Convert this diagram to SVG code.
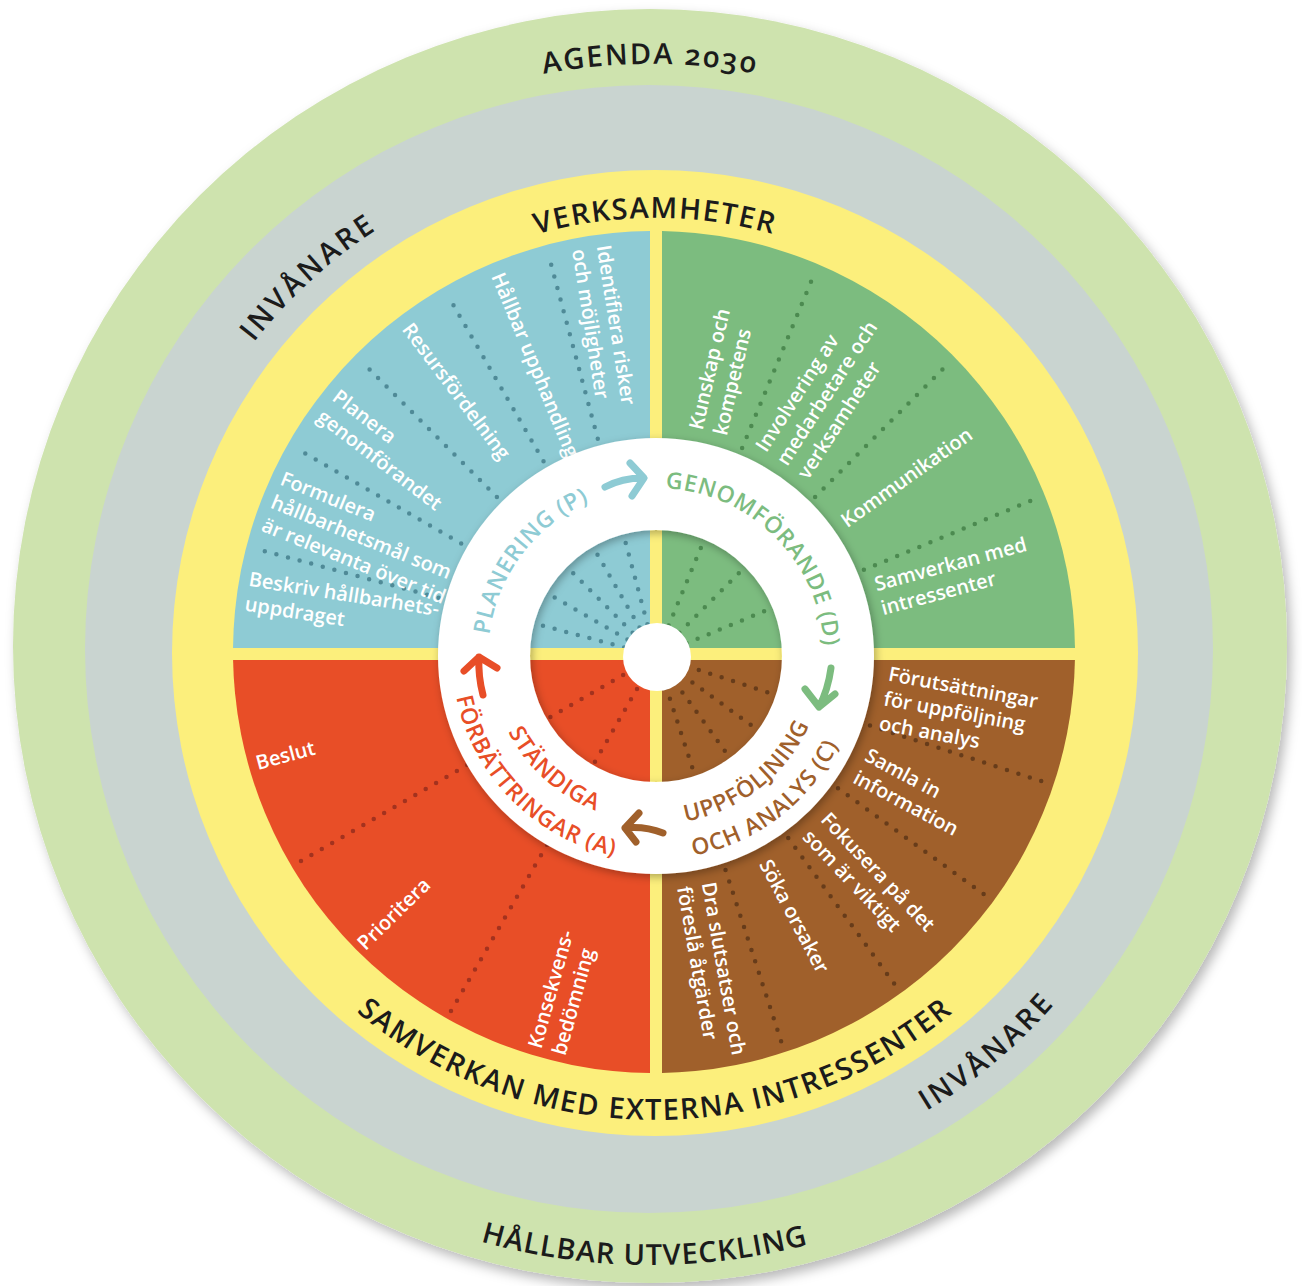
<svg xmlns="http://www.w3.org/2000/svg" width="1302" height="1286" viewBox="0 0 1302 1286">
<defs>
<style>
.dark{font-family:"Open Sans","Noto Sans","DejaVu Sans",sans-serif;font-weight:600;fill:#1b1b1b;font-size:29px;}
.lbl{font-family:"Open Sans","Noto Sans","DejaVu Sans",sans-serif;font-weight:600;font-size:20px;fill:#ffffff;}
.ring{font-family:"Open Sans","Noto Sans","DejaVu Sans",sans-serif;font-weight:600;font-size:23px;letter-spacing:0.8px;}
.dots{fill:none;stroke-width:4.5;stroke-linecap:round;stroke-dasharray:0 12;}
.arrow{fill:none;stroke-width:7;stroke-linecap:round;stroke-linejoin:round;}
</style>
<filter id="shadow" x="-10%" y="-10%" width="125%" height="125%">
<feDropShadow dx="4" dy="6" stdDeviation="6" flood-color="#000" flood-opacity="0.28"/>
</filter>
<filter id="ringShadow" x="-20%" y="-20%" width="140%" height="140%">
<feDropShadow dx="2" dy="3" stdDeviation="4" flood-color="#000" flood-opacity="0.3"/>
</filter>
<clipPath id="cBlue"><rect x="0" y="0" width="650" height="648"/></clipPath>
<clipPath id="cGreen"><rect x="662" y="0" width="640" height="648"/></clipPath>
<clipPath id="cRed"><rect x="0" y="660" width="650" height="626"/></clipPath>
<clipPath id="cBrown"><rect x="662" y="660" width="640" height="626"/></clipPath>
<path id="pAgenda" d="M103.1,446.9 A582,582 0 0 1 1196.9,446.9"/>
<path id="pVerk" d="M246.2,504.2 A435,435 0 0 1 1063.8,504.2"/>
<path id="pInv1" d="M195.8,860.3 A500,500 0 0 1 899,216"/>
<path id="pInv2" d="M379.5,1115.8 A539,539 0 0 0 1155.5,464.7"/>
<path id="pSamv" d="M216.2,812.7 A467,467 0 0 0 1093.8,812.7"/>
<path id="pHall" d="M66.5,852.6 A619,619 0 0 0 1229.8,862.8"/>
<path id="pPlan" d="M527.3,764 A168,168 0 0 1 724.3,502.5"/>
<path id="pGen" d="M567,513.5 A168,168 0 0 1 798.5,745"/>
<path id="pUpp" d="M550.3,786.6 A168,168 0 0 0 808.3,585"/>
<path id="pOch" d="M526.6,812.4 A203,203 0 0 0 840.9,572.1"/>
<path id="pStan" d="M510.8,575.5 A166,166 0 0 0 751.2,792"/>
<path id="pForb" d="M483,547.9 A204,204 0 0 0 764.1,829"/>
</defs>

<rect x="0" y="0" width="1302" height="1286" fill="#ffffff"/>

<g id="ring-agenda">
<circle cx="650" cy="646" r="637" fill="#cee3ae" filter="url(#shadow)"/>
<text class="dark" style="letter-spacing:2px;font-variant-numeric:oldstyle-nums"><textPath href="#pAgenda" startOffset="50%" text-anchor="middle">AGENDA 2030</textPath></text>
<text class="dark" style="letter-spacing:1px"><textPath href="#pHall" startOffset="50%" text-anchor="middle">HÅLLBAR UTVECKLING</textPath></text>
</g>

<g id="ring-invanare">
<circle cx="649" cy="649" r="564" fill="#c9d4d0"/>
<text class="dark" style="letter-spacing:3px"><textPath href="#pInv1" startOffset="50%" text-anchor="middle">INVÅNARE</textPath></text>
<text class="dark" style="letter-spacing:3px"><textPath href="#pInv2" startOffset="50%" text-anchor="middle">INVÅNARE</textPath></text>
</g>

<g id="ring-verksamheter">
<circle cx="655" cy="653" r="483" fill="#fcef7c"/>
<text class="dark" style="letter-spacing:1.5px"><textPath href="#pVerk" startOffset="50%" text-anchor="middle">VERKSAMHETER</textPath></text>
<text class="dark" style="letter-spacing:1.6px"><textPath href="#pSamv" startOffset="50%" text-anchor="middle">SAMVERKAN MED EXTERNA INTRESSENTER</textPath></text>
</g>

<g id="q-planering">
<g clip-path="url(#cBlue)">
<circle cx="654" cy="652" r="421" fill="#8ecbd4"/>
<path class="dots" stroke="#4f8a97" d="M264.8,551.2 L627,648.2 M305.3,453.5 L630,641 M369.6,369.6 L634.8,634.8 M453.5,305.3 L641,630 M551.2,264.8 L648.2,627"/>
</g>
<text class="lbl" transform="translate(656 656) rotate(9)"><tspan x="-414" y="-5.5">Beskriv hållbarhets-</tspan><tspan x="-414" y="19.5">uppdraget</tspan></text>
<text class="lbl" transform="translate(656 656) rotate(22)"><tspan x="-414" y="-18">Formulera</tspan><tspan x="-414" y="7">hållbarhetsmål som</tspan><tspan x="-414" y="32">är relevanta över tid</tspan></text>
<text class="lbl" transform="translate(656 656) rotate(37.5)"><tspan x="-414" y="-5.5">Planera</tspan><tspan x="-414" y="19.5">genomförandet</tspan></text>
<text class="lbl" transform="translate(656 656) rotate(53)"><tspan x="-414" y="7">Resursfördelning</tspan></text>
<text class="lbl" transform="translate(656 656) rotate(67.5)"><tspan x="-414" y="7">Hållbar upphandling</tspan></text>
<text class="lbl" transform="translate(656 656) rotate(81)"><tspan x="-414" y="-5.5">Identifiera risker</tspan><tspan x="-414" y="19.5">och möjligheter</tspan></text>
</g>

<g id="q-genomforande">
<g clip-path="url(#cGreen)">
<circle cx="654" cy="652" r="421" fill="#7cbc7f"/>
<path class="dots" stroke="#4c8a50" d="M811,281.8 L667.5,628.3 M942.4,369.6 L677.2,634.8 M1030.2,501 L683.7,644.5"/>
</g>
<text class="lbl" transform="translate(656 656) rotate(283)"><tspan x="230" y="-5.5">Kunskap och</tspan><tspan x="230" y="19.5">kompetens</tspan></text>
<text class="lbl" transform="translate(656 656) rotate(303)"><tspan x="230" y="-18">Involvering av</tspan><tspan x="230" y="7">medarbetare och</tspan><tspan x="230" y="32">verksamheter</tspan></text>
<text class="lbl" transform="translate(656 656) rotate(324.5)"><tspan x="230" y="7">Kommunikation</tspan></text>
<text class="lbl" transform="translate(656 656) rotate(345)"><tspan x="230" y="-5.5">Samverkan med</tspan><tspan x="230" y="19.5">intressenter</tspan></text>
</g>

<g id="q-forbattringar">
<g clip-path="url(#cRed)">
<circle cx="654" cy="652" r="421" fill="#e84e27"/>
<path class="dots" stroke="#a3321e" d="M301,861 L630,671 M451,1011.1 L641,682"/>
</g>
<text class="lbl" transform="translate(656 656) rotate(-15)"><tspan x="-414" y="7">Beslut</tspan></text>
<text class="lbl" transform="translate(656 656) rotate(-44.5)"><tspan x="-414" y="7">Prioritera</tspan></text>
<text class="lbl" transform="translate(656 656) rotate(-74.5)"><tspan x="-410" y="-5.5">Konsekvens-</tspan><tspan x="-410" y="19.5">bedömning</tspan></text>
</g>

<g id="q-uppfoljning">
<g clip-path="url(#cBrown)">
<circle cx="654" cy="652" r="421" fill="#a0602b"/>
<path class="dots" stroke="#673c1a" d="M1041.2,781.1 L684.5,665.3 M983.6,894.1 L680.3,673.6 M894.1,983.6 L673.6,680.3 M781.1,1041.2 L665.3,684.5"/>
</g>
<text class="lbl" transform="translate(656 656) rotate(10.5)"><tspan x="232" y="-18">Förutsättningar</tspan><tspan x="232" y="7">för uppföljning</tspan><tspan x="232" y="32">och analys</tspan></text>
<text class="lbl" transform="translate(656 656) rotate(28)"><tspan x="232" y="-5.5">Samla in</tspan><tspan x="232" y="19.5">information</tspan></text>
<text class="lbl" transform="translate(656 656) rotate(46.5)"><tspan x="232" y="-5.5">Fokusera på det</tspan><tspan x="232" y="19.5">som är viktigt</tspan></text>
<text class="lbl" transform="translate(656 656) rotate(62)"><tspan x="232" y="7">Söka orsaker</tspan></text>
<text class="lbl" transform="translate(656 656) rotate(80)"><tspan x="232" y="-5.5">Dra slutsatser och</tspan><tspan x="232" y="19.5">föreslå åtgärder</tspan></text>
</g>

<g id="pdca-ring">
<circle cx="656" cy="656" r="172" fill="none" stroke="#ffffff" stroke-width="92" filter="url(#ringShadow)"/>
<circle cx="657" cy="657" r="34" fill="#ffffff"/>
<text class="ring" fill="#8ecbd4"><textPath href="#pPlan" startOffset="50%" text-anchor="middle">PLANERING (P)</textPath></text>
<text class="ring" fill="#7cbc7f"><textPath href="#pGen" startOffset="50%" text-anchor="middle">GENOMFÖRANDE (D)</textPath></text>
<text class="ring" fill="#a0602b"><textPath href="#pUpp" startOffset="50%" text-anchor="middle">UPPFÖLJNING</textPath></text>
<text class="ring" fill="#a0602b"><textPath href="#pOch" startOffset="50%" text-anchor="middle">OCH ANALYS (C)</textPath></text>
<text class="ring" fill="#e84e27"><textPath href="#pStan" startOffset="50%" text-anchor="middle">STÄNDIGA</textPath></text>
<text class="ring" fill="#e84e27"><textPath href="#pForb" startOffset="50%" text-anchor="middle">FÖRBÄTTRINGAR (A)</textPath></text>
</g>

<g id="connectors">
<path class="arrow" stroke="#8ecbd4" d="M605,487 Q622,478 643,478 M630,463 L644,478 L632,496"/>
<path class="arrow" stroke="#7cbc7f" d="M831,668 Q828,690 819,707 M805,689 L819,707 L835,694"/>
<path class="arrow" stroke="#a0602b" d="M663,833 Q645,826 625,828 M639,813 L625,828 L636,842"/>
<path class="arrow" stroke="#e84e27" d="M483,695 Q478,676 479,657 M464,671 L479,657 L497,668"/>
</g>
</svg>
